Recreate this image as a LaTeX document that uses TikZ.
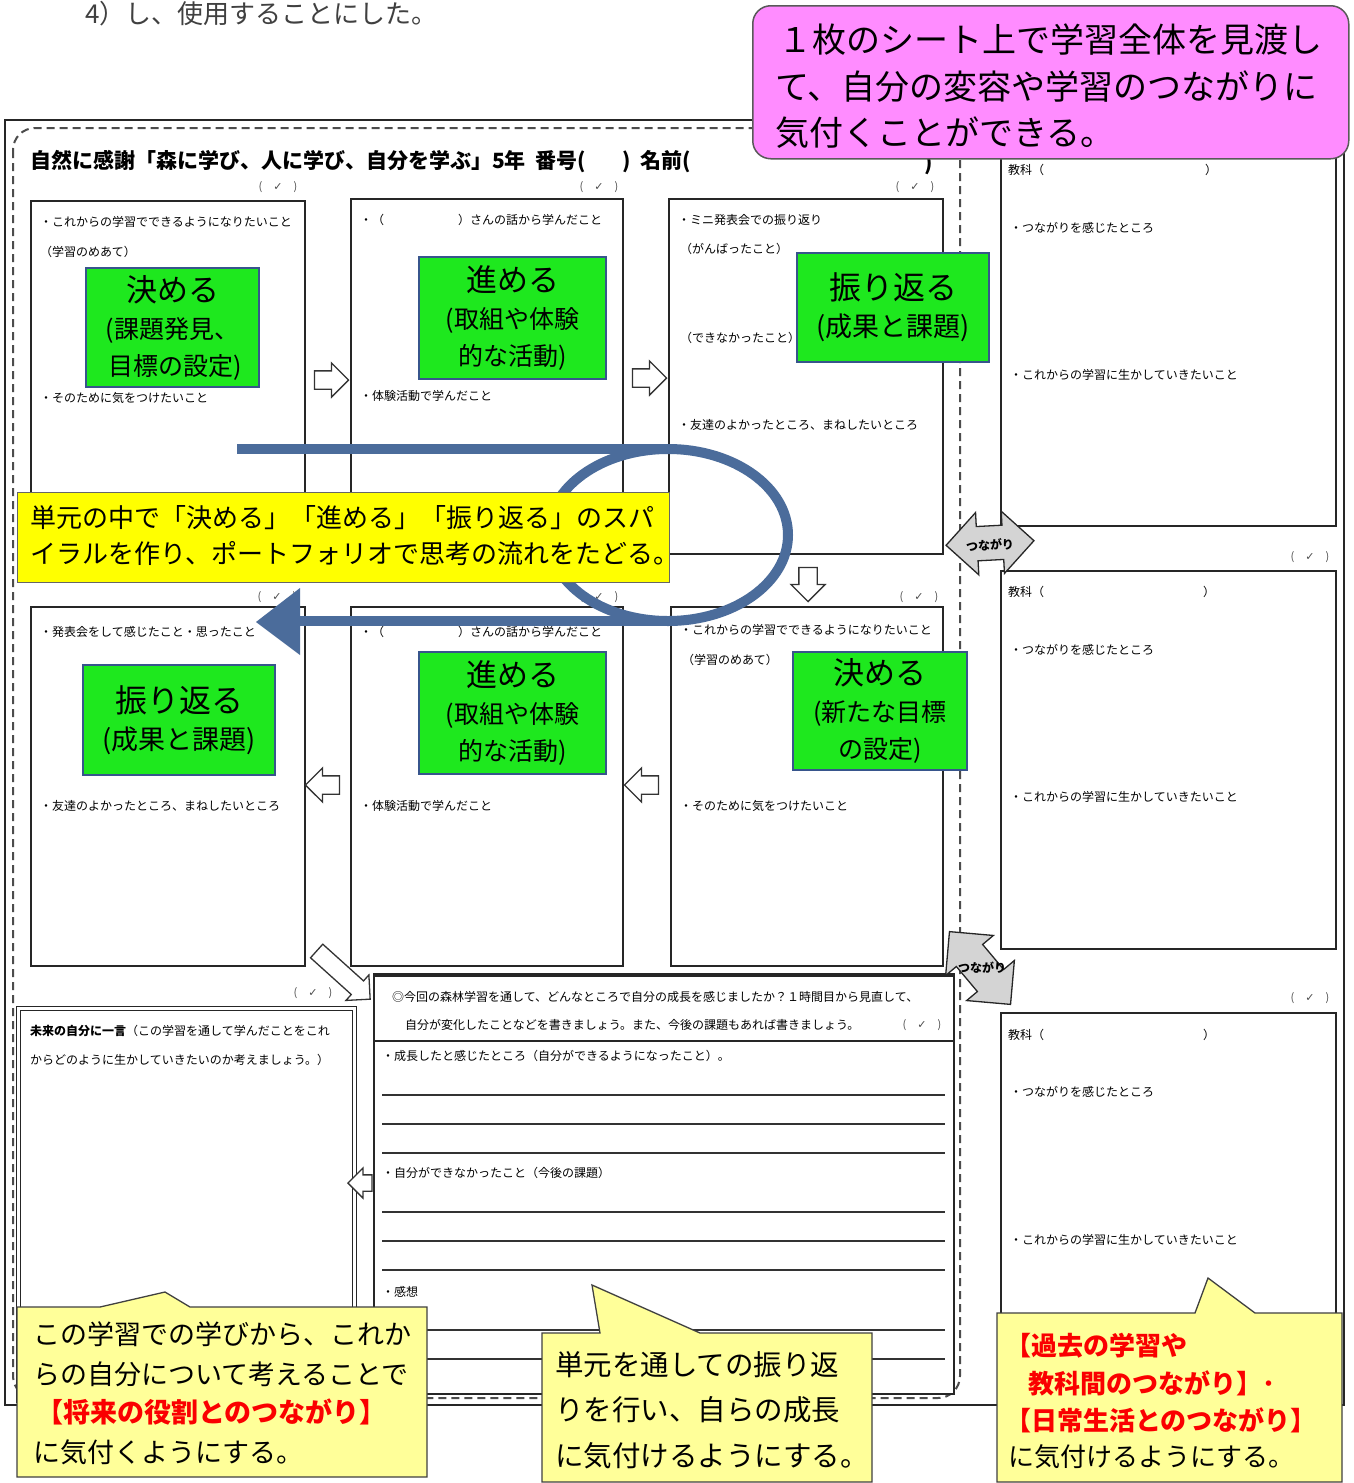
\documentclass[tikz,border=0pt]{standalone}
\usepackage{fontspec}
\setmainfont{Noto Sans CJK JP}
\newfontfamily\dejavu{DejaVu Sans}
\usetikzlibrary{shapes.arrows,shapes.geometric}
\definecolor{gfill}{RGB}{30,232,30}
\definecolor{gborder}{RGB}{55,85,140}
\definecolor{spiralc}{RGB}{75,108,155}
\definecolor{pinkc}{RGB}{255,140,255}
\definecolor{ybright}{RGB}{255,255,0}
\definecolor{ylight}{RGB}{255,255,153}
\definecolor{redt}{RGB}{250,0,0}
\begin{document}
\begin{tikzpicture}[x=1pt,y=-1pt,
  sheet/.style={draw=black!85, line width=1.6pt, fill=white, anchor=north west, inner sep=0pt},
  sm/.style={anchor=west, inner sep=0pt, font=\fontsize{12}{14}\selectfont, text=black},
  chk/.style={anchor=center, inner sep=0pt, font=\fontsize{11}{13}\selectfont, text=black!70},
  gbox/.style={draw=gborder, line width=2.5pt, fill=gfill, align=center, inner sep=0pt, font=\fontsize{25}{37}\selectfont},
  hol/.style={single arrow, draw=black!80, fill=white, line width=1.3pt, minimum height=34pt, single arrow head extend=8pt, inner sep=0pt},
  tsu/.style={double arrow, draw=black!85, fill=black!17, line width=1.3pt, double arrow head extend=14pt, inner sep=0pt},
  tsutext/.style={inner sep=0pt, font=\bfseries\fontsize{12}{14}\selectfont},
  rulel/.style={line width=1.5pt, draw=black!80},
  callout/.style={fill=ylight, draw=black!75, line width=1.3pt},
  ct/.style={anchor=west, inner sep=0pt}
]
\useasboundingbox (0,0) rectangle (1354,1483);
\fill[white] (0,0) rectangle (1354,1483);

% top text
\node[ct, font=\fontsize{26}{30}\selectfont, text=black!75] (toptext) at (85,14) {4）し、使用することにした。};

% frames
\draw[line width=1.6pt, black!85] (5,120) rectangle (1344,1405);
\draw[line width=2pt, black!70, dash pattern=on 8pt off 5pt, rounded corners=22pt] (13,128) rectangle (960,1398);

% title
\node[ct, font=\bfseries\fontsize{21}{24}\selectfont] (title) at (30,162) {自然に感謝「森に学び、人に学び、自分を学ぶ」5年\ \ 番号(};
\node[ct, font=\bfseries\fontsize{21}{24}\selectfont] (title2) at (622,162) {)\ \ 名前(};
\node[ct, font=\bfseries\fontsize{21}{24}\selectfont] (title3) at (924,164) {)};

% sheet boxes
\node[sheet, minimum width=274pt, minimum height=353pt] (b1) at (30,200) {};
\node[sheet, minimum width=272pt, minimum height=355pt] (b2) at (350,198) {};
\node[sheet, minimum width=274pt, minimum height=355pt] (b3) at (668,198) {};
\node[sheet, minimum width=274pt, minimum height=359pt] (b4) at (30,606) {};
\node[sheet, minimum width=272pt, minimum height=359pt] (b5) at (350,606) {};
\node[sheet, minimum width=272pt, minimum height=359pt] (b6) at (670,606) {};
\node[sheet, minimum width=335pt, minimum height=375pt] (r1) at (1000,150) {};
\node[sheet, minimum width=335pt, minimum height=378pt] (r2) at (1000,570) {};
\node[sheet, minimum width=335pt, minimum height=385pt] (r3) at (1000,1012) {};

% check marks
\node[chk] (k1) at (278,187) {(\quad{\dejavu ✓}\quad)};
\node[chk] (k2) at (599,187) {(\quad{\dejavu ✓}\quad)};
\node[chk] (k3) at (915,187) {(\quad{\dejavu ✓}\quad)};
\node[chk] (k4) at (277,597) {(\quad{\dejavu ✓}\quad)};
\node[chk] (k5) at (599,597) {(\quad{\dejavu ✓}\quad)};
\node[chk] (k6) at (919,597) {(\quad{\dejavu ✓}\quad)};
\node[chk] (k7) at (1310,557) {(\quad{\dejavu ✓}\quad)};
\node[chk] (k8) at (1310,998) {(\quad{\dejavu ✓}\quad)};
\node[chk] (k9) at (313,993) {(\quad{\dejavu ✓}\quad)};

% small texts row 1
\node[sm] (t11) at (40,222) {・これからの学習でできるようになりたいこと};
\node[sm] (t12) at (40,252) {（学習のめあて）};
\node[sm] (t13) at (40,398) {・そのために気をつけたいこと};
\node[sm] (t21) at (360,220) {・（};
\node[sm] (t22) at (458,220) {）さんの話から学んだこと};
\node[sm] (t23) at (360,396) {・体験活動で学んだこと};
\node[sm] (t31) at (678,220) {・ミニ発表会での振り返り};
\node[sm] (t32) at (680,249) {（がんばったこと）};
\node[sm] (t33) at (680,338) {（できなかったこと）};
\node[sm] (t34) at (678,425) {・友達のよかったところ、まねしたいところ};
% row 2
\node[sm] (t41) at (40,632) {・発表会をして感じたこと・思ったこと};
\node[sm] (t42) at (40,806) {・友達のよかったところ、まねしたいところ};
\node[sm] (t51) at (360,632) {・（};
\node[sm] (t52) at (458,632) {）さんの話から学んだこと};
\node[sm] (t53) at (360,806) {・体験活動で学んだこと};
\node[sm] (t61) at (680,630) {・これからの学習でできるようになりたいこと};
\node[sm] (t62) at (682,660) {（学習のめあて）};
\node[sm] (t63) at (680,806) {・そのために気をつけたいこと};
% right column
\node[sm] (ra1) at (1008,170) {教科（};
\node[sm] (ra2) at (1205,170) {）};
\node[sm] (ra3) at (1010,228) {・つながりを感じたところ};
\node[sm] (ra4) at (1010,375) {・これからの学習に生かしていきたいこと};
\node[sm] (rb1) at (1008,592) {教科（};
\node[sm] (rb2) at (1203,592) {）};
\node[sm] (rb3) at (1010,650) {・つながりを感じたところ};
\node[sm] (rb4) at (1010,797) {・これからの学習に生かしていきたいこと};
\node[sm] (rc1) at (1008,1035) {教科（};
\node[sm] (rc2) at (1203,1035) {）};
\node[sm] (rc3) at (1010,1092) {・つながりを感じたところ};
\node[sm] (rc4) at (1010,1240) {・これからの学習に生かしていきたいこと};

% hollow arrows
\node[hol] (a12) at (327,380) {\rule{0pt}{17pt}};
\node[hol] (a23) at (645,378) {\rule{0pt}{17pt}};
\node[hol, rotate=-90] (a36) at (808,580) {\rule{0pt}{17pt}};
\node[hol, rotate=180] (a65) at (646,785) {\rule{0pt}{17pt}};
\node[hol, rotate=180] (a54) at (327,785) {\rule{0pt}{17pt}};
\node[hol, rotate=-42, minimum height=72pt] (a4m) at (340,972) {\rule{0pt}{17pt}};

% bottom-left box
\node[draw=black!85, line width=1.2pt, double, double distance=3pt, fill=white, anchor=north west, inner sep=0pt, minimum width=336pt, minimum height=392pt] (bl) at (18,1008) {};
\node[sm] (bl1) at (30,1031) {{\bfseries 未来の自分に一言}（この学習を通して学んだことをこれ};
\node[sm] (bl2) at (30,1060) {からどのように生かしていきたいのか考えましょう。）};

% small left arrow
\node[hol, rotate=180, minimum height=24pt, single arrow head extend=7pt] (amb) at (364,1183) {\rule{0pt}{15pt}};

% bottom-middle box
\node[sheet, minimum width=580pt, minimum height=418pt] (bm) at (373,975) {};
\draw[line width=4pt, black!85] (bm.north west) -- (bm.north east);
\draw[line width=1.8pt, black!85] (373,1041) -- (953,1041);
\node[sm] (h1) at (392,997) {◎今回の森林学習を通して、どんなところで自分の成長を感じましたか？１時間目から見直して、};
\node[sm] (h2) at (405,1025) {自分が変化したことなどを書きましょう。また、今後の課題もあれば書きましょう。};
\node[chk] (k10) at (922,1025) {(\quad{\dejavu ✓}\quad)};
\node[sm] (m1) at (382,1056) {・成長したと感じたところ（自分ができるようになったこと）。};
\node[sm] (m2) at (382,1173) {・自分ができなかったこと（今後の課題）};
\node[sm] (m3) at (382,1292) {・感想};
\foreach \yy in {1095,1124,1153,1212,1241,1270,1330,1359}
  \draw[rulel] (382,\yy) -- (945,\yy);

% green boxes
\node[gbox, minimum width=173pt, minimum height=119pt] (g1) at (172.5,327.5) {{\fontsize{31}{37}\selectfont 決める}\\(課題発見、\\\ 目標の設定)};
\node[gbox, minimum width=187pt, minimum height=122pt] (g2) at (512.5,318) {{\fontsize{31}{37}\selectfont 進める}\\(取組や体験\\的な活動)};
\node[gbox, minimum width=192pt, minimum height=109pt] (g3) at (893,307.5) {{\fontsize{32}{44}\selectfont 振り返る}\\{\fontsize{27}{44}\selectfont (成果と課題)}};
\node[gbox, minimum width=192pt, minimum height=110pt] (g4) at (179,720) {{\fontsize{32}{44}\selectfont 振り返る}\\{\fontsize{27}{44}\selectfont (成果と課題)}};
\node[gbox, minimum width=187pt, minimum height=122pt] (g5) at (512.5,713) {{\fontsize{31}{37}\selectfont 進める}\\(取組や体験\\的な活動)};
\node[gbox, minimum width=174pt, minimum height=118pt] (g6) at (880,711) {{\fontsize{31}{37}\selectfont 決める}\\(新たな目標\\の設定)};

% spiral
\draw[spiralc, line width=10pt] (237,449) -- (668,449);
\draw[spiralc, line width=10pt] (668,535) ellipse [x radius=120, y radius=86];
\draw[spiralc, line width=10pt] (668,621) -- (296,621);
\fill[spiralc] (300,588) -- (256,622) -- (300,655) -- cycle;

% yellow band
\node[draw=black!60, line width=1pt, fill=ybright, anchor=north west, minimum width=652pt, minimum height=90pt, inner sep=0pt] (yb) at (17,492) {};
\node[ct, font=\fontsize{26}{30}\selectfont] (yb1) at (30,518) {単元の中で「決める」「進める」「振り返る」のスパ};
\node[ct, font=\fontsize{26}{30}\selectfont] (yb2) at (30,554) {イラルを作り、ポートフォリオで思考の流れをたどる。};

% tsunagari arrows
\node[tsu, rotate=3, minimum height=88pt] (tu1) at (990,543) {\rule{0pt}{33pt}};
\node[tsutext, rotate=3] (tu1t) at (990,545) {つながり};
\node[tsu, rotate=-50, minimum height=95pt] (tu2) at (980,968) {\rule{0pt}{33pt}};
\node[tsutext] (tu2t) at (982,968) {つながり};

% callouts
\path[callout] (17,1307) -- (100,1307) -- (165,1292) -- (190,1307) -- (427,1307) -- (427,1477) -- (17,1477) -- cycle;
\node[ct, font=\fontsize{27}{30}\selectfont] (c11) at (33,1334) {この学習での学びから、これか};
\node[ct, font=\fontsize{27}{30}\selectfont] (c12) at (33,1374) {らの自分について考えることで};
\node[ct, font=\bfseries\fontsize{27}{30}\selectfont, text=redt] (c13) at (36,1412) {【将来の役割とのつながり】};
\node[ct, font=\fontsize{27}{30}\selectfont] (c14) at (33,1452) {に気付くようにする。};

\path[callout] (542,1333) -- (600,1333) -- (592,1285) -- (700,1333) -- (872,1333) -- (872,1482) -- (542,1482) -- cycle;
\node[ct, font=\fontsize{28.5}{32}\selectfont] (c21) at (555,1365) {単元を通しての振り返};
\node[ct, font=\fontsize{28.5}{32}\selectfont] (c22) at (555,1410) {りを行い、自らの成長};
\node[ct, font=\fontsize{28.5}{32}\selectfont] (c23) at (555,1456) {に気付けるようにする。};

\path[callout] (997,1313) -- (1195,1313) -- (1208,1278) -- (1255,1313) -- (1342,1313) -- (1342,1482) -- (997,1482) -- cycle;
\node[ct, font=\bfseries\fontsize{26}{30}\selectfont, text=redt] (c31) at (1005,1346) {【過去の学習や};
\node[ct, font=\bfseries\fontsize{26}{30}\selectfont, text=redt] (c32) at (1028,1383) {教科間のつながり】･};
\node[ct, font=\bfseries\fontsize{26}{30}\selectfont, text=redt] (c33) at (1005,1420) {【日常生活とのつながり】};
\node[ct, font=\fontsize{26}{30}\selectfont] (c34) at (1008,1457) {に気付けるようにする。};

% pink callout
\node[draw=black!65, line width=1.5pt, fill=pinkc, rounded corners=18pt, anchor=north west, minimum width=596pt, minimum height=153pt, inner sep=0pt] (pk) at (752,5) {};
\node[ct, font=\fontsize{34}{38}\selectfont] (pk1) at (778,40) {１枚のシート上で学習全体を見渡し};
\node[ct, font=\fontsize{34}{38}\selectfont] (pk2) at (775,87) {て、自分の変容や学習のつながりに};
\node[ct, font=\fontsize{34}{38}\selectfont] (pk3) at (775,133) {気付くことができる。};
\end{tikzpicture}
\end{document}
